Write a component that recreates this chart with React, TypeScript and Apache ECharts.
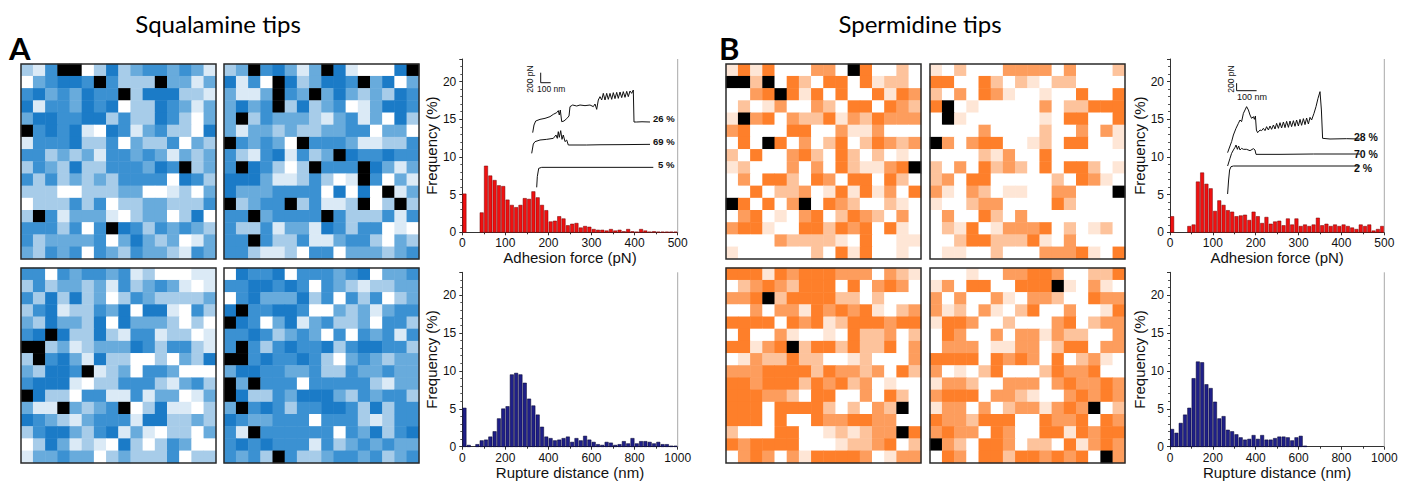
import React, { useEffect, useRef } from 'react';
import * as echarts from 'echarts';

// ---------------- Heat maps: 16 x 16 cells, levels 0 (white) .. 5 (darkest), X = black
const squalamineTopLeft = [
  '214XX02523443431', '034554X4222X3313', '45343544X2555221', '5144354502254313',
  '3554455242254203', 'X454510541342205', '1444522403224032', '4423231443431323',
  '2432522444354X23', '4242323244440542', '2220022233001203', '0222424022332224',
  '2X41333102330250', '4442404X54243432', '4233334035323013', '3243404324332143',
];
const squalamineTopRight = [
  '23X45313X510005X', '5140X523554X3503', '3113X43X35323254', '3534X25234013554',
  '3X24333213413052', '3133232233440330', 'X43430X444311224', '421451423X544544',
  '4X54202X444X5313', '55531124201X4031', '5333444405050X13', 'X2344X24112X02X2',
  '44X34444X4222414', '4224133154244010', '44X4224113442032', '4421120440333234',
];
const squalamineBottomLeft = [
  '4404344341200011', '2423323142343101', '4252523024322223', '2451224350551042',
  '3253325053332020', '45X5225214412201', 'XX23123335424421', '2X45315220020325',
  '32554X1230443000', '4555102244421342', 'X522044114133013', '311X3234X0251102',
  '5432134441552232', '2455324513102203', '0253121052024300', '1334330232224022',
];
const squalamineBottomRight = [
  '0544504443450334', '4455454043212233', '0453335240424023', '5X44554003231344',
  'X540351342230442', '4454234304043414', '4X42454452455442', 'XX45445420343233',
  '3554433422433433', 'X3X4440444442133', 'X522435553243442', '3X45424455425244',
  '5433444044421244', '41X4444440435245', '4545444142343433', '4342X42234434234',
];
const spermidineTopLeft = [
  '1414000330X40020', 'XX2X042044041220', '0034X41404004143', '0201300320440432',
  '1X34032241324333', '3400044003113000', '040X403024024323', '2040034204202010',
  '120003030421134X', '0304420430440420', '0040223014141304', 'X40403X043200210',
  '0340103402432030', '3441004424340410', '0000322221040011', '1000000204140010',
];
const spermidineTopRight = [
  '1020003333030002', '4400420210220000', '2030431001004004', '4X01000003022444',
  '0X10000001044004', '0000300002003031', 'X303440012044001', '0000213004000000',
  '2030423204044201', '2304400000204310', '310320110033000X', '1002330000420000',
  '0300420300000000', '0214013334020120', '0024422241030000', '0110020003334104',
];
const spermidineBottomLeft = [
  '4441434443330321', '0234324440403430', '334X244442202000', '0030331434341023',
  '4444043412444344', '0400310010422302', '44134X2442422403', '0132242200120003',
  '3334444243323042', '4434442434230100', '4443320440030420', '44404444202032X0',
  '4440400433443300', '20004400121233X4', '4344440001223402', '0343031444430133',
];
const spermidineBottomRight = [
  '0001003344300224', '1304400444X10310', '3030031033200433', '3120310240030014',
  '1443002000340233', '0430030331322003', '0333011330244033', '4444043430402310',
  '3010240002433400', '1332003330343343', '3444033210034343', '1330302331343X02',
  '4332444004334043', '3433043004414344', 'X320443022041343', '04304424434340X3',
];

// ---------------- Histograms (% per bin)
const forceBinWidth = 10; // pN
const ruptureBinWidth = 20; // nm
const squalamineForce = [
  5.1, 0, 0, 0, 2.6, 8.8, 7.5, 6.9, 6.2, 6.1,
  4.3, 3.6, 3.3, 3.6, 4.5, 4.4, 5.4, 4.6, 3.6, 2.9,
  1.4, 1.5, 2.1, 1.8, 0.9, 1.1, 1.2, 0.6, 0.8, 0.7,
  0.4, 0.3, 0.3, 0.2, 0.4, 0.2, 0.3, 0.1, 0.4, 0.1,
  0.05, 0.4, 0.2, 0.05, 0.1, 0.05, 0.05, 0.05, 0.05, 0.05,
];
const squalamineRupture = [
  5.1, 0.2, 0, 0.3, 0.8, 0.9, 1.3, 2.0, 3.7, 5.0,
  5.3, 9.5, 9.7, 9.5, 8.4, 6.3, 5.4, 4.2, 2.6, 1.3,
  1.1, 0.8, 0.9, 1.1, 1.3, 0.6, 1.1, 0.8, 1.4, 0.9,
  0.6, 0.3, 0.2, 0.6, 0.5, 0.2, 0.3, 0.7, 0.4, 1.1,
  0.4, 0.7, 0.7, 0.6, 0.4, 0.6, 0.3, 0.3, 0.1, 0.1,
];
const spermidineForce = [
  2.1, 0, 0, 0, 0.8, 1.0, 6.7, 7.9, 6.4, 5.8,
  2.8, 4.2, 3.6, 2.9, 2.7, 2.1, 2.2, 2.3, 1.6, 2.7,
  2.1, 1.2, 2.0, 1.1, 1.4, 1.5, 0.9, 1.8, 1.0, 1.8,
  0.8, 1.0, 0.8, 1.0, 1.9, 0.9, 1.1, 0.8, 1.0, 0.8,
  1.0, 0.8, 0.6, 0.4, 1.0, 0.8, 1.0, 0.2, 0.4, 0.8,
];
const spermidineRupture = [
  2.3, 1.8, 3.1, 4.2, 5.1, 9.0, 11.2, 11.1, 8.2, 7.7,
  5.9, 3.7, 4.0, 2.2, 2.0, 1.6, 1.2, 0.9, 1.0, 1.5,
  1.0, 1.5, 0.9, 0.9, 1.1, 1.3, 1.3, 1.2, 0.8, 1.2,
  1.4, 0.1, 0, 0, 0, 0, 0, 0, 0, 0,
  0, 0, 0, 0, 0, 0, 0, 0, 0, 0,
];
const yTickLabels = [0, 5, 10, 15, 20];

// ---------------- Inset force curves [distance nm, force pN (offset for display)]
const squalamineCurve26 = [
  [27, 1247], [40, 1400], [57, 1480], [100, 1513], [150, 1533], [200, 1567], [233, 1613], [267, 1647],
  [283, 1687], [293, 1600], [303, 1700], [317, 1467], [340, 1480], [367, 1527], [390, 1580], [400, 1767],
  [427, 1800], [467, 1780], [500, 1800], [550, 1787], [600, 1800], [633, 1767], [650, 1820], [667, 1713],
  [683, 1900], [700, 1967], [717, 1900], [733, 2033], [750, 1900], [767, 2033], [783, 1913], [800, 2033],
  [817, 1913], [833, 2047], [850, 1927], [867, 2053], [883, 1933], [900, 2060], [917, 1947], [933, 2067],
  [950, 1953], [967, 2073], [983, 1967], [1000, 2080], [1017, 2033], [1033, 2100], [1040, 1460],
  [1067, 1460], [1120, 1465], [1200, 1460],
];
const squalamineCurve69 = [
  [17, 833], [33, 1020], [50, 1067], [100, 1100], [167, 1113], [233, 1133], [260, 1200], [273, 1133],
  [283, 1267], [293, 1153], [307, 1287], [320, 1113], [333, 1200], [350, 1067], [367, 1100], [383, 1000],
  [567, 1000], [700, 1005], [900, 1007], [1200, 1013],
];
const squalamineCurve5 = [[67, 153], [73, 367], [87, 533], [117, 553], [600, 553], [1233, 553]];
const squalamineScaleBar = [[107, 2446], [107, 2246], [207, 2246]];

const spermidineCurve28 = [
  [38, 1129], [50, 1307], [58, 1422], [67, 1600], [80, 1778], [92, 1911], [100, 2000], [108, 1956],
  [117, 2178], [125, 2267], [133, 2356], [142, 2267], [150, 2133], [158, 2044], [167, 2089], [172, 2018],
  [177, 2107], [182, 1733], [188, 1662], [200, 1733], [208, 1716], [217, 1778], [225, 1716], [233, 1822],
  [242, 1733], [250, 1840], [258, 1751], [267, 1867], [275, 1760], [283, 1911], [292, 1778], [300, 1929],
  [308, 1787], [317, 1947], [325, 1796], [333, 1964], [342, 1804], [350, 1973], [358, 1822], [367, 1982],
  [375, 1831], [383, 2000], [392, 1840], [400, 2018], [408, 1858], [417, 2036], [425, 1876], [433, 2053],
  [442, 1893], [450, 2071], [458, 2000], [470, 2178], [480, 2356], [490, 2578], [500, 2756], [507, 2267],
  [513, 1511], [550, 1493], [633, 1502], [700, 1493],
];
const spermidineCurve70 = [
  [38, 773], [50, 978], [58, 1111], [67, 1200], [75, 1271], [80, 1333], [87, 1218], [93, 1307],
  [100, 1200], [108, 1244], [117, 1218], [133, 1218], [150, 1182], [167, 1236], [175, 1200], [180, 1084],
  [300, 1084], [467, 1093], [700, 1093],
];
const spermidineCurve2 = [[38, 27], [43, 400], [48, 667], [55, 756], [67, 773], [700, 773]];
const spermidineScaleBar = [[83, 2982], [83, 2782], [183, 2782]];

// ---------------- Styles / layout
const BLUE_LEVELS = ['#ffffff', '#dbeaf6', '#a7cce9', '#68abdc', '#3b91d2', '#1b7bc7'];
const ORANGE_LEVELS = ['#ffffff', '#fee6d6', '#fdc39c', '#fd9d5d', '#fe7f2a'];
const NO_DATA = 9;
const HEAT_SIZE = 195;
const HEAT_LAYOUT = [
  { left: 21, top: 64 }, { left: 224, top: 64 }, { left: 21, top: 268 }, { left: 224, top: 268 },
  { left: 726, top: 64 }, { left: 930, top: 64 }, { left: 726, top: 268 }, { left: 930, top: 268 },
];
const HIST_LAYOUT = [
  { left: 462.3, top: 59, width: 215.4, height: 173.3 },
  { left: 462.3, top: 272.3, width: 215.4, height: 174.4 },
  { left: 1170, top: 59, width: 214.3, height: 173.3 },
  { left: 1170, top: 272.3, width: 214.3, height: 174.4 },
];
const INSET_LAYOUT = [
  { left: 530, top: 65, width: 150, height: 130, xMax: 1500, yMax: 2600 },
  { left: 1220, top: 67.5, width: 140, height: 127.5, xMax: 700, yMax: 3400 },
];
const AXIS_FONT = 'Liberation Sans, Arial, sans-serif';
const CELL_INDEX = Array.from({ length: 16 }, (_, i) => String(i));

function toCells(rows: string[]) {
  const out: number[][] = [];
  rows.forEach((row, r) => {
    for (let c = 0; c < 16; c++) {
      const ch = row[c];
      out.push([c, r, ch === 'X' ? NO_DATA : Number(ch)]);
    }
  });
  return out;
}

function buildOption() {
  const grids: any[] = [];
  const xAxes: any[] = [];
  const yAxes: any[] = [];
  const series: any[] = [];
  const graphics: any[] = [];

  const heatSets = [
    squalamineTopLeft, squalamineTopRight, squalamineBottomLeft, squalamineBottomRight,
    spermidineTopLeft, spermidineTopRight, spermidineBottomLeft, spermidineBottomRight,
  ];
  heatSets.forEach((rows, i) => {
    const L = HEAT_LAYOUT[i];
    grids.push({ left: L.left, top: L.top, width: HEAT_SIZE, height: HEAT_SIZE, containLabel: false });
    xAxes.push({ type: 'category', gridIndex: i, data: CELL_INDEX, show: false });
    yAxes.push({ type: 'category', gridIndex: i, data: CELL_INDEX, inverse: true, show: false });
    series.push({
      type: 'heatmap', xAxisIndex: i, yAxisIndex: i, data: toCells(rows),
      itemStyle: { borderWidth: 0 }, emphasis: { disabled: true }, silent: true,
    });
    graphics.push({
      type: 'rect', z: 100, silent: true,
      shape: { x: L.left, y: L.top, width: HEAT_SIZE, height: HEAT_SIZE },
      style: { fill: 'none', stroke: '#2a2a2a', lineWidth: 1.5 },
    });
  });

  const histSets = [
    { values: squalamineForce, bin: forceBinWidth, max: 500, interval: 100, name: 'Adhesion force (pN)', fill: '#f01010', stroke: '#700000' },
    { values: squalamineRupture, bin: ruptureBinWidth, max: 1000, interval: 200, name: 'Rupture distance (nm)', fill: '#1f1f88', stroke: '#03032a' },
    { values: spermidineForce, bin: forceBinWidth, max: 500, interval: 100, name: 'Adhesion force (pN)', fill: '#f01010', stroke: '#700000' },
    { values: spermidineRupture, bin: ruptureBinWidth, max: 1000, interval: 200, name: 'Rupture distance (nm)', fill: '#1f1f88', stroke: '#03032a' },
  ];
  histSets.forEach((h, k) => {
    const gi = 8 + k;
    const L = HIST_LAYOUT[k];
    grids.push({ left: L.left, top: L.top, width: L.width, height: L.height, containLabel: false });
    xAxes.push({
      type: 'value', gridIndex: gi, min: 0, max: h.max, interval: h.interval,
      name: h.name, nameLocation: 'middle', nameGap: 13,
      nameTextStyle: { fontSize: 15, color: '#111', fontFamily: AXIS_FONT },
      axisLine: { show: true, onZero: false, lineStyle: { color: '#333', width: 1 } },
      axisTick: { show: true, inside: false, length: 3, lineStyle: { color: '#333' } },
      minorTick: { show: true, splitNumber: 2, length: 2, lineStyle: { color: '#333' } },
      axisLabel: {
        fontSize: 12, color: '#111', margin: 5, fontFamily: AXIS_FONT,
        formatter: (v: number) => String(v),
      },
      splitLine: { show: false },
    });
    yAxes.push({
      type: 'value', gridIndex: gi, min: 0, max: 23, interval: 5,
      name: 'Frequency (%)', nameLocation: 'middle', nameGap: 16,
      nameTextStyle: { fontSize: 15, color: '#111', fontFamily: AXIS_FONT },
      axisLine: { show: true, onZero: false, lineStyle: { color: '#333', width: 1 } },
      axisTick: { show: true, inside: false, length: 3, lineStyle: { color: '#333' } },
      minorTick: { show: true, splitNumber: 5, length: 2, lineStyle: { color: '#555' } },
      axisLabel: {
        fontSize: 12, color: '#111', margin: 6, fontFamily: AXIS_FONT,
        formatter: (v: number) => (yTickLabels.includes(v) ? String(v) : ''),
      },
      splitLine: { show: false },
    });
    series.push({
      type: 'custom', xAxisIndex: gi, yAxisIndex: gi, silent: true,
      data: h.values.map((v, j) => [j * h.bin, (j + 1) * h.bin, v]),
      encode: { x: [0, 1], y: 2 },
      renderItem: (params: any, api: any) => {
        const v = api.value(2);
        if (!(v > 0)) return null;
        const p0 = api.coord([api.value(0), v]);
        const p1 = api.coord([api.value(1), 0]);
        return {
          type: 'rect',
          shape: { x: p0[0] + 0.45, y: p0[1], width: Math.max(p1[0] - p0[0] - 0.9, 0.5), height: p1[1] - p0[1] },
          style: { fill: h.fill, stroke: h.stroke, lineWidth: 0.5 },
        };
      },
    });
    graphics.push({
      type: 'line', z: 50, silent: true,
      shape: { x1: L.left + L.width, y1: L.top, x2: L.left + L.width, y2: L.top + L.height },
      style: { stroke: '#a8a8a8', lineWidth: 1 },
    });
  });

  const insetCurves = [
    [squalamineCurve26, squalamineCurve69, squalamineCurve5, squalamineScaleBar],
    [spermidineCurve28, spermidineCurve70, spermidineCurve2, spermidineScaleBar],
  ];
  insetCurves.forEach((curves, k) => {
    const gi = 12 + k;
    const L = INSET_LAYOUT[k];
    grids.push({ left: L.left, top: L.top, width: L.width, height: L.height, containLabel: false });
    xAxes.push({ type: 'value', gridIndex: gi, min: 0, max: L.xMax, show: false });
    yAxes.push({ type: 'value', gridIndex: gi, min: 0, max: L.yMax, show: false });
    curves.forEach((pts) => {
      series.push({
        type: 'line', xAxisIndex: gi, yAxisIndex: gi, data: pts, showSymbol: false, silent: true,
        lineStyle: { color: '#111', width: 1 }, z: 5,
      });
    });
  });

  const txt = (text: string, x: number, y: number, size: number, extra: any = {}) => ({
    type: 'text', x, y, z: 120, silent: true, rotation: extra.rotation || 0,
    style: {
      text, fontSize: size, fontFamily: extra.family || AXIS_FONT, fontWeight: extra.weight || 'normal',
      fill: extra.color || '#111', align: extra.align || 'left', verticalAlign: 'middle',
    },
  });

  graphics.push(
    txt('Squalamine tips', 218, 23, 24, { family: 'Lato, sans-serif', align: 'center', color: '#000' }),
    txt('Spermidine tips', 920, 23, 24, { family: 'Lato, sans-serif', align: 'center', color: '#000' }),
    txt('A', 9, 48, 31, { family: 'Lato, sans-serif', weight: 'bold', color: '#000' }),
    txt('B', 719, 48, 31, { family: 'Lato, sans-serif', weight: 'bold', color: '#000' }),
    txt('200 pN', 530, 79, 8.5, { align: 'center', rotation: Math.PI / 2 }),
    txt('100 nm', 537, 88.5, 8.5),
    txt('26 %', 653, 118.3, 9.5, { weight: 'bold' }),
    txt('69 %', 653, 141.7, 9.5, { weight: 'bold' }),
    txt('5 %', 658, 164, 9.5, { weight: 'bold' }),
    txt('200 pN', 1230.5, 79, 8.5, { align: 'center', rotation: Math.PI / 2 }),
    txt('100 nm', 1237, 96.7, 9),
    txt('28 %', 1354, 137.3, 10.5, { weight: 'bold' }),
    txt('70 %', 1354, 153.7, 10.5, { weight: 'bold' }),
    txt('2 %', 1354, 168.3, 10.5, { weight: 'bold' }),
  );

  const pieces = (levels: string[]) => [
    ...levels.map((color, value) => ({ value, color })),
    { value: NO_DATA, color: '#000000' },
  ];

  return {
    animation: false,
    backgroundColor: '#ffffff',
    grid: grids,
    xAxis: xAxes,
    yAxis: yAxes,
    visualMap: [
      { type: 'piecewise', show: false, seriesIndex: [0, 1, 2, 3], dimension: 2, pieces: pieces(BLUE_LEVELS) },
      { type: 'piecewise', show: false, seriesIndex: [4, 5, 6, 7], dimension: 2, pieces: pieces(ORANGE_LEVELS) },
    ],
    series,
    graphic: graphics,
  };
}

export default function App() {
  const ref = useRef<HTMLDivElement>(null);
  useEffect(() => {
    if (!ref.current) return;
    const chart = echarts.init(ref.current, undefined, { renderer: 'svg' });
    chart.setOption(buildOption() as any);
    return () => chart.dispose();
  }, []);
  return (
    <div
      ref={ref}
      style={{ position: 'absolute', left: 0, top: 0, width: 1410, height: 481, background: '#fff' }}
    />
  );
}
